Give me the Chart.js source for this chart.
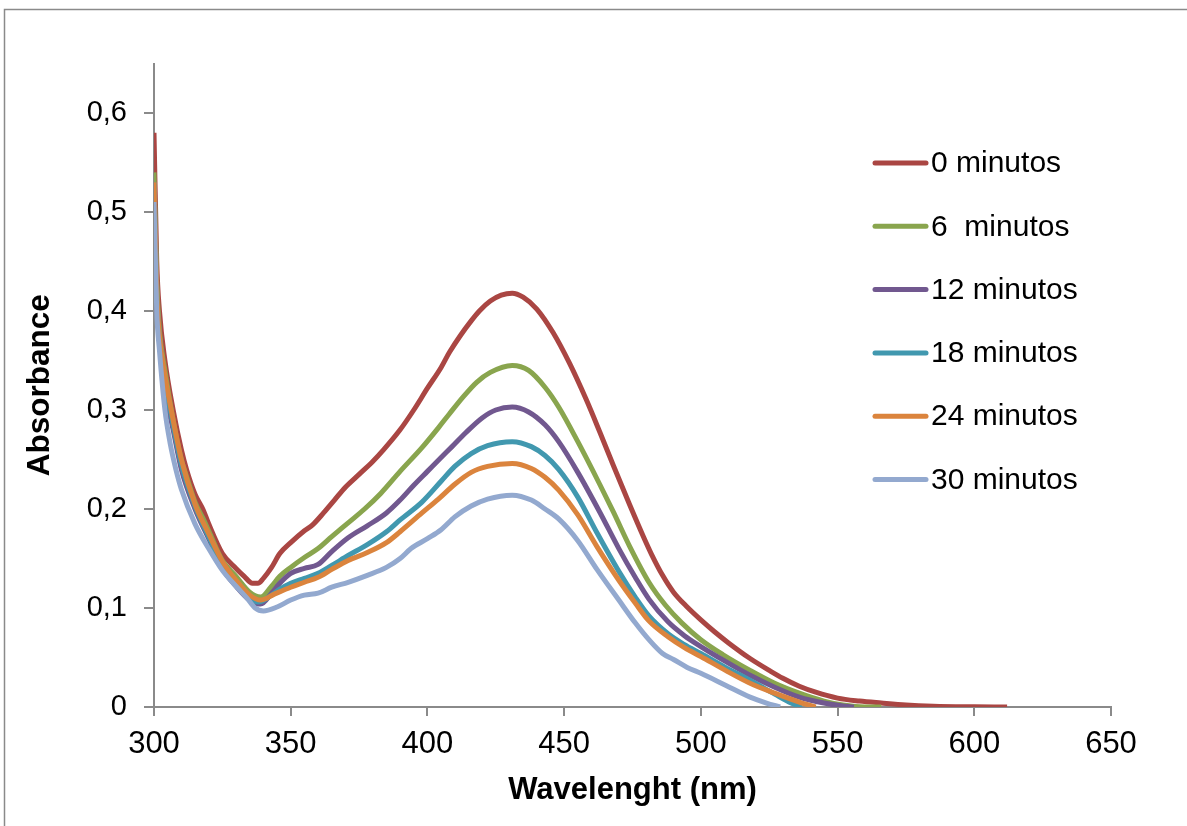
<!DOCTYPE html>
<html>
<head>
<meta charset="utf-8">
<title>Absorbance vs wavelength</title>
<script src="https://cdn.jsdelivr.net/npm/chart.js@4.4.1/dist/chart.umd.min.js"></script>
<style>
  html, body { margin: 0; padding: 0; background: #fff; }
  #wrap { width: 1187px; height: 826px; position: relative; }
</style>
</head>
<body>
<div id="wrap"><canvas id="spectra"></canvas></div>
<script>
// Series labels (legend text)
const seriesLabels = ['0 minutos', '6  minutos', '12 minutos', '18 minutos', '24 minutos', '30 minutos'];

// 0 minutos
const wl_0 = [300,301,302,304,307,310,312,315,318,320,325,330,333,336,338,340,343,346,350,355,358,362,366,370,375,380,384,390,395,400,405,408,412,416,419,423,427,431,435,440,446,452,458,463,468,474,479,482,486,490,495,500,505,510,518,525,530,536,542,550,558,566,575,585,600,612];
const abs_0 = [0.58,0.45,0.40,0.35,0.30,0.26,0.239,0.215,0.199,0.185,0.155,0.14,0.132,0.125,0.125,0.13,0.141,0.155,0.166,0.178,0.184,0.196,0.209,0.222,0.235,0.248,0.26,0.28,0.30,0.322,0.343,0.358,0.375,0.39,0.40,0.41,0.416,0.418,0.414,0.402,0.378,0.347,0.311,0.278,0.244,0.204,0.172,0.154,0.133,0.116,0.101,0.088,0.076,0.065,0.049,0.037,0.029,0.021,0.015,0.009,0.006,0.004,0.002,0.0008,0.0002,0];

// 6 minutos
const wl_6 = [300,301,302,304,307,310,312,315,318,320,325,330,335,339,343,346,350,355,360,365,371,377,383,390,398,404,408,413,418,423,431,437,443,448,455,463,468,474,481,487,493,500,508,518,527,536,545,552,560,566];
const abs_6 = [0.54,0.43,0.38,0.34,0.29,0.25,0.232,0.207,0.19,0.178,0.148,0.132,0.116,0.111,0.122,0.132,0.141,0.151,0.16,0.172,0.186,0.2,0.216,0.238,0.262,0.282,0.296,0.313,0.328,0.338,0.345,0.34,0.323,0.303,0.268,0.225,0.197,0.162,0.126,0.103,0.085,0.068,0.053,0.037,0.024,0.014,0.006,0.002,0,0];

// 12 minutos
const wl_12 = [300,301,302,304,307,310,315,320,325,330,335,339,343,346,350,355,360,365,371,378,385,390,395,400,405,409,414,420,425,431,437,443,448,455,463,470,476,481,488,494,500,509,518,527,536,545,552,556];
const abs_12 = [0.52,0.41,0.37,0.32,0.28,0.24,0.2,0.17,0.14,0.122,0.108,0.104,0.115,0.125,0.135,0.14,0.144,0.157,0.171,0.183,0.196,0.209,0.224,0.238,0.252,0.263,0.277,0.292,0.3,0.303,0.298,0.285,0.268,0.237,0.197,0.16,0.131,0.109,0.086,0.072,0.061,0.046,0.032,0.02,0.01,0.004,0.001,0];

// 18 minutos
const wl_18 = [300,301,302,304,307,310,315,320,325,330,335,338,343,346,350,355,360,365,371,378,385,390,398,405,410,416,422,431,438,443,448,455,462,470,476,481,488,494,500,509,518,527,533,537];
const abs_18 = [0.53,0.42,0.375,0.33,0.285,0.245,0.203,0.172,0.143,0.125,0.11,0.106,0.113,0.119,0.125,0.13,0.135,0.143,0.153,0.164,0.177,0.189,0.207,0.228,0.243,0.256,0.264,0.268,0.263,0.254,0.24,0.212,0.176,0.137,0.111,0.092,0.074,0.063,0.054,0.04,0.027,0.013,0.004,0];

// 24 minutos
const wl_24 = [300,301,302,304,307,310,315,320,325,330,335,339,344,350,355,360,365,371,378,385,390,398,404,410,416,422,431,438,443,448,455,462,470,476,481,488,494,500,509,518,527,536,542];
const abs_24 = [0.53,0.42,0.375,0.335,0.29,0.25,0.205,0.175,0.147,0.128,0.113,0.108,0.114,0.121,0.126,0.131,0.139,0.148,0.156,0.166,0.177,0.196,0.21,0.225,0.237,0.243,0.246,0.241,0.232,0.219,0.194,0.162,0.128,0.105,0.087,0.071,0.06,0.051,0.037,0.024,0.014,0.005,0];

// 30 minutos
const wl_30 = [300,301,302,304,306,308,310,315,320,325,330,334,337,340,345,350,355,360,365,371,378,385,390,394,400,405,410,416,422,431,438,443,448,455,462,470,476,481,486,490,495,500,509,518,524,529];
const abs_30 = [0.51,0.40,0.36,0.30,0.265,0.24,0.22,0.185,0.16,0.138,0.122,0.11,0.1,0.097,0.101,0.108,0.113,0.115,0.121,0.126,0.133,0.141,0.15,0.16,0.17,0.179,0.192,0.203,0.21,0.214,0.209,0.2,0.19,0.168,0.139,0.108,0.085,0.068,0.054,0.048,0.04,0.034,0.022,0.01,0.004,0];

const xTicks = [300, 350, 400, 450, 500, 550, 600, 650];
const yTicks = [0, 0.1, 0.2, 0.3, 0.4, 0.5, 0.6];

const colors = ['#AA4643', '#89A54E', '#71588F', '#4198AF', '#DB843D', '#93A9CF'];
const wavelengths = [wl_0, wl_6, wl_12, wl_18, wl_24, wl_30];
const absorbances = [abs_0, abs_6, abs_12, abs_18, abs_24, abs_30];

const FONT = '"Liberation Sans", Arial, sans-serif';
const AXIS_GREY = '#8a8a8a';

const datasets = seriesLabels.map((label, i) => ({
    label: label,
    data: wavelengths[i].map((w, j) => ({ x: w, y: absorbances[i][j] })),
    borderColor: colors[i],
    backgroundColor: colors[i],
    borderWidth: 5,
    pointRadius: 0,
    fill: false,
    cubicInterpolationMode: 'monotone',
    order: seriesLabels.length - i   // later series on top, like the original
}));

// outer frame + legend inside the plot
const framePlugin = {
    id: 'frame',
    beforeDraw(chart) {
        const ctx = chart.ctx;
        ctx.save();
        ctx.strokeStyle = AXIS_GREY;
        ctx.lineWidth = 1.5;
        ctx.beginPath();
        ctx.moveTo(4.5, 900);
        ctx.lineTo(4.5, 9.5);
        ctx.lineTo(1300, 9.5);
        ctx.stroke();
        ctx.restore();
    },
    afterDraw(chart) {
        const ctx = chart.ctx;
        ctx.save();
        ctx.font = '30px ' + FONT;
        ctx.textBaseline = 'middle';
        ctx.textAlign = 'left';
        ctx.lineCap = 'round';
        chart.data.datasets.forEach((ds, i) => {
            const y = 163 + i * 63.3;
            ctx.strokeStyle = ds.borderColor;
            ctx.lineWidth = 5;
            ctx.beginPath();
            ctx.moveTo(875, y);
            ctx.lineTo(926, y);
            ctx.stroke();
            ctx.fillStyle = '#000';
            ctx.fillText(ds.label, 931, y + 1);
        });
        ctx.restore();
    }
};

new Chart(document.getElementById('spectra'), {
    type: 'line',
    data: { datasets: datasets },
    options: {
        responsive: true,
        maintainAspectRatio: false,
        animation: false,
        layout: { padding: { left: 0, top: 63.5, right: 76, bottom: 0 } },
        plugins: {
            legend: { display: false },
            tooltip: { enabled: false }
        },
        scales: {
            x: {
                type: 'linear',
                min: 300,
                max: 650,
                afterFit: (scale) => { scale.height = 119; },
                afterBuildTicks: (scale) => { scale.ticks = xTicks.map(v => ({ value: v })); },
                grid: { drawOnChartArea: false, drawTicks: true, tickLength: 9, color: AXIS_GREY, lineWidth: 2 },
                border: { display: true, color: AXIS_GREY, width: 2 },
                ticks: {
                    color: '#000',
                    padding: 10,
                    maxRotation: 0,
                    font: { family: FONT, size: 31 }
                },
                title: {
                    display: true,
                    text: 'Wavelenght (nm)',
                    color: '#000',
                    font: { family: FONT, size: 31, weight: 'bold', lineHeight: 1.2 },
                    padding: { top: 0, bottom: 17 }
                }
            },
            y: {
                min: 0,
                max: 0.65,
                afterFit: (scale) => { scale.width = 154; },
                afterBuildTicks: (scale) => { scale.ticks = yTicks.map(v => ({ value: v })); },
                grid: { drawOnChartArea: false, drawTicks: true, tickLength: 10, color: AXIS_GREY, lineWidth: 2 },
                border: { display: true, color: AXIS_GREY, width: 2 },
                ticks: {
                    color: '#000',
                    padding: 17,
                    font: { family: FONT, size: 29 },
                    callback: (v) => v === 0 ? '0' : v.toFixed(1).replace('.', ',')
                },
                title: {
                    display: true,
                    text: 'Absorbance',
                    color: '#000',
                    font: { family: FONT, size: 31.5, weight: 'bold', lineHeight: 1.2 },
                    padding: { top: 21, bottom: 0 }
                }
            }
        }
    },
    plugins: [framePlugin]
});
</script>
</body>
</html>
